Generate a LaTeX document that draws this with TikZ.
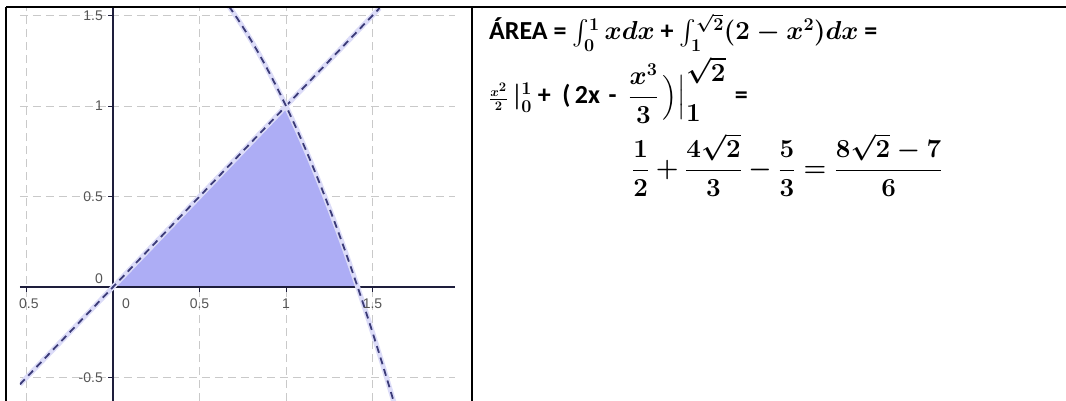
\documentclass[tikz,border=0pt]{standalone}
\usepackage{fix-cm}
\usepackage[no-math]{fontspec}
\setmainfont{Carlito}
\newfontfamily\ggfont{Liberation Sans}
\usepackage{amsmath}
\usepackage{xcolor}
\DeclareMathSizes{26}{26}{18}{13}
\definecolor{ggfill}{HTML}{ADADF5}
\definecolor{ggline}{HTML}{3B3B78}
\definecolor{gghalo}{HTML}{DCDCF8}
\definecolor{gggrid}{HTML}{C9C9C9}
\definecolor{ggaxis}{HTML}{1E1E3C}
\definecolor{gglabel}{HTML}{555555}
\usetikzlibrary{positioning}
\newcommand{\intsup}[1]{\lower4pt\hbox{$\scriptstyle #1$}}
\newcommand{\intsub}[1]{\lower3pt\hbox{$\scriptstyle #1$}}

\begin{document}
\begin{tikzpicture}[x=1pt,y=-1pt]
\tikzset{
 rule/.style={line width=2.4pt,draw=black},
 gridline/.style={draw=gggrid,line width=0.8pt,dash pattern=on 8pt off 5pt},
 halo/.style={draw=gghalo,line width=5pt},
 curve/.style={draw=ggline,line width=1.8pt,dash pattern=on 7pt off 5pt},
 axis/.style={draw=ggaxis,line width=1.3pt},
 lab/.style={text=gglabel,font=\ggfont\fontsize{14}{14}\selectfont,inner sep=1pt},
 txt/.style={anchor=base west,inner sep=0pt,font=\fontsize{26}{30}\selectfont\bfseries\boldmath}
}
\useasboundingbox (0,0) rectangle (1066,401);
\begin{scope}[shift={(113,287)},x=173pt,y=181pt]
\clip (-0.538,-0.63) rectangle (1.977,1.541);
\foreach \v in {-0.5,0,0.5,1,1.5}
  \draw[gridline] (\v,-0.63) -- (\v,1.541);
\foreach \v in {-0.5,0.5,1,1.5}
  \draw[gridline] (-0.538,\v) -- (1.977,\v);
\fill[ggfill] (0,0) -- (1,1) -- plot[domain=1:1.41421,samples=20] (\x,{2-\x*\x}) -- cycle;
\draw[axis] (-0.538,0) -- (1.977,0);
\draw[axis] (0,-0.63) -- (0,1.541);
\foreach \v in {-0.5,0.5,1,1.5} {
  \draw[axis,line width=0.8pt] (0,\v) -- ++(-5pt,0);
  \draw[axis,line width=0.8pt] (\v,0) -- ++(0,-5pt);
}
\draw[halo] (-0.538,-0.538) -- (1.541,1.541);
\draw[curve] (-0.538,-0.538) -- (1.541,1.541);
\draw[halo] plot[domain=0.67:1.63,samples=40] (\x,{2-\x*\x});
\draw[curve] plot[domain=0.67:1.63,samples=40] (\x,{2-\x*\x});
\foreach \v/\t [count=\i] in {1.5/1.5,1/1,0.5/0.5,-0.5/-0.5}
  \node[lab,left=9pt] (ylab\i) at (0,\v) {\t};
\node[lab] (yzero) at (-0.081,0.044) {0};
\node[lab] (xzero) at (0.075,-0.094) {0};
\foreach \v/\t [count=\i] in {-0.5/-0.5,0.5/0.5,1/1,1.5/1.5}
  \node[lab] (xlab\i) at (\v,-0.094) {\t};
\end{scope}
\draw[rule] (6,7) -- (1066,7);
\draw[rule] (6,7) -- (6,401);
\draw[rule] (472,7) -- (472,401);
\node[txt] (area) at (489,40)
  {ÁREA = $\int_{\intsub{0}}^{\intsup{1}} x dx$ + $\int_{\intsub{1}}^{\intsup{\sqrt{2}}}(2-x^2)dx$ =};
\node[txt] (prim) at (489,104)
  {${\scriptstyle\frac{x^2}{2}}\,|_0^1$ +~~(\,2x\,\,-~~$\dfrac{x^3}{3}$\,$\Bigr)\Bigr|_{\textstyle1}^{\textstyle\sqrt{2}}$\,\,=};
\node[txt] (res) at (632,177)
  {$\dfrac{1}{2}+\dfrac{4\sqrt{2}}{3}-\dfrac{5}{3}=\dfrac{8\sqrt{2}-7}{6}$};
\end{tikzpicture}
\end{document}
